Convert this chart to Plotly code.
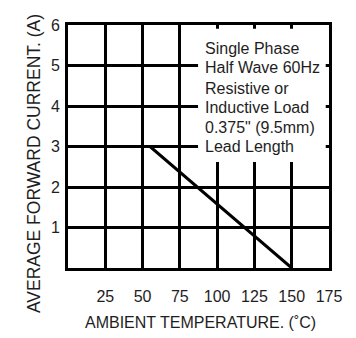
import plotly.graph_objects as go

# Derating curve data
temp = [0, 55, 150]
current = [3, 3, 0]

x_ticks = [25, 50, 75, 100, 125, 150, 175]
y_ticks = [1, 2, 3, 4, 5, 6]

note_lines = ["Single Phase", "Half Wave 60Hz", "Resistive or",
              "Inductive Load", "0.375\" (9.5mm)", "Lead Length"]
note_y = [5.43, 4.94, 4.44, 3.96, 3.46, 2.99]

x_title = "AMBIENT TEMPERATURE. (˚C)"
y_title = "AVERAGE FORWARD CURRENT. (A)"

FONT = "Liberation Sans, Arial, sans-serif"
TXT = "#1e1e1e"

fig = go.Figure()
fig.add_trace(go.Scatter(x=temp, y=current, mode="lines",
                         line=dict(color="black", width=3),
                         showlegend=False, hoverinfo="skip"))

# white box behind the note (covers grid)
fig.add_shape(type="rect", xref="x", yref="y", x0=87.2, x1=172.8, y0=2.62, y1=5.91,
              fillcolor="white", line=dict(width=0), layer="between")

for t, yy in zip(note_lines, note_y):
    fig.add_annotation(x=90.5, y=yy, xref="x", yref="y", text=t, showarrow=False,
                       xanchor="left", yanchor="middle",
                       font=dict(family=FONT, size=16, color=TXT))

# axis titles
fig.add_annotation(x=0.506, y=-0.226, xref="paper", yref="paper", text=x_title,
                   showarrow=False, xanchor="center", yanchor="middle",
                   font=dict(family=FONT, size=16, color=TXT))
fig.add_annotation(x=-0.130, y=0.428, xref="paper", yref="paper", text=y_title,
                   showarrow=False, xanchor="center", yanchor="middle", textangle=-90,
                   font=dict(family=FONT, size=17.5, color=TXT))

fig.update_xaxes(range=[0, 175], tickvals=x_ticks, ticktext=[str(v) for v in x_ticks],
                 showgrid=True, gridcolor="black", gridwidth=2.6,
                 showline=True, linecolor="black", linewidth=3, mirror=True,
                 zeroline=False, ticks="", ticklen=0, automargin=False,
                 ticklabelstandoff=12,
                 tickfont=dict(family=FONT, size=16, color=TXT))
fig.update_yaxes(range=[0, 6], tickvals=y_ticks, ticktext=[str(v) for v in y_ticks],
                 showgrid=True, gridcolor="black", gridwidth=2.6,
                 showline=True, linecolor="black", linewidth=3, mirror=True,
                 zeroline=False, ticks="", ticklen=0, automargin=False,
                 ticklabelstandoff=2,
                 tickfont=dict(family=FONT, size=16, color=TXT))

# page body has an 8px default margin; size/margins compensate for it
fig.update_layout(width=348, height=330,
                  margin=dict(l=60, r=27, t=17, b=70),
                  paper_bgcolor="white", plot_bgcolor="white")

fig.write_html("out.html")
